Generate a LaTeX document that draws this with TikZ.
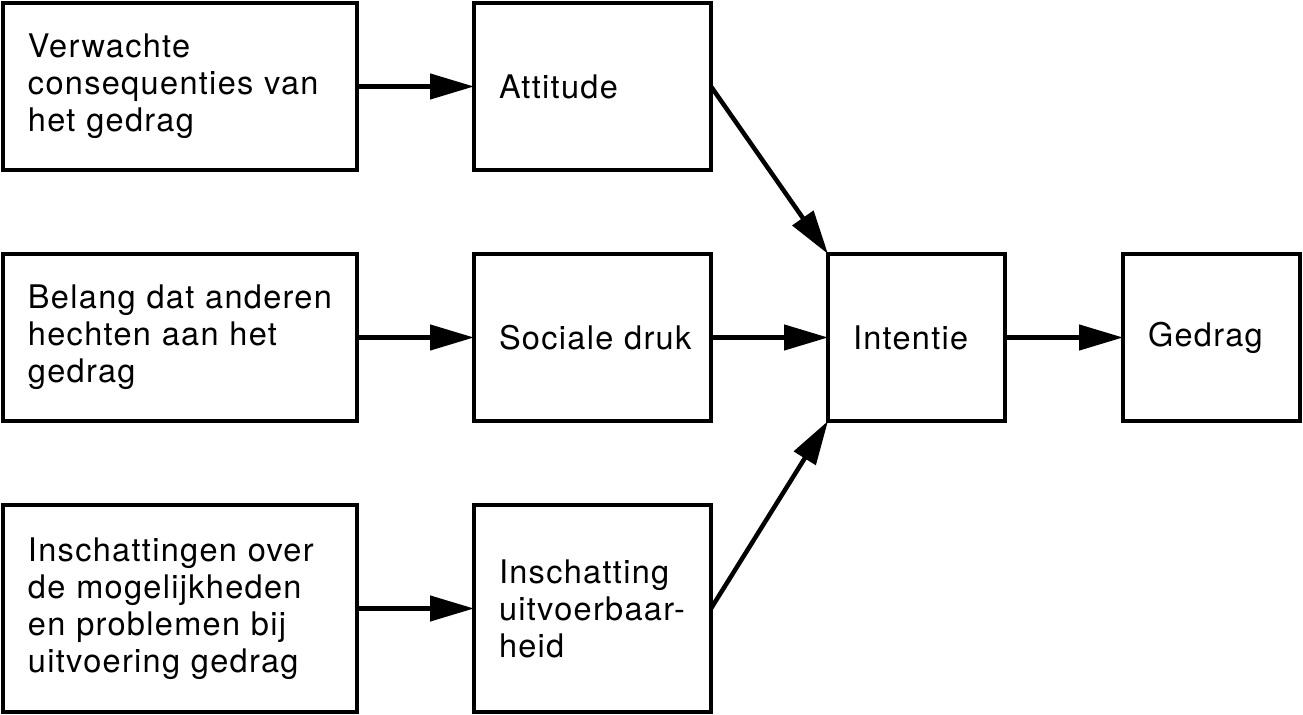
\documentclass[tikz,border=0pt]{standalone}
\usepackage{fontspec}
\setmainfont[LetterSpace=4]{TeX Gyre Heros}
\usepackage{tikz}
\usetikzlibrary{positioning,arrows.meta}

\begin{document}
\begin{tikzpicture}[font=\fontsize{18.5pt}{21pt}\selectfont, node distance=1.68cm and 2.34cm,
  line width=0.09cm, outer sep=0pt,
  box/.style={draw, align=left, inner sep=0.5cm, minimum height=3.34cm},
  wide/.style={box, text width=6.08cm, minimum width=7.08cm},
  mid/.style={box, text width=3.74cm, minimum width=4.74cm},
  small/.style={box, text width=2.54cm, minimum width=3.54cm},
  pijl/.style={-{Triangle[length=0.88cm,width=0.5cm]}}]
\useasboundingbox (0,0) rectangle (26.06,-14.3);
\node[wide] (gevolg) at (3.6,-1.73) {Verwachte\\consequenties van\\het gedrag};
\node[wide, below=of gevolg] (belang) {Belang dat anderen\\hechten aan het\\gedrag};
\node[wide, below=of belang, minimum height=4.14cm] (kans) {Inschattingen over\\de mogelijkheden\\en problemen bij\\uitvoering gedrag};
\node[mid, right=of gevolg] (att) {Attitude};
\node[mid, right=of belang] (druk) {Sociale~druk};
\node[mid, right=of kans, minimum height=4.14cm] (uitv) {Inschatting\\uitvoerbaar-\\heid};
\node[small, right=of druk] (int) {Intentie};
\node[small, right=2.36cm of int] (ged) {Gedrag};
\foreach \a/\b in {gevolg/att,belang/druk,kans/uitv,druk/int,int/ged} \draw[pijl] (\a) -- (\b);
\draw[pijl] (att.east) -- (int.north west);
\draw[pijl] (uitv.east) -- (int.south west);
\end{tikzpicture}
\end{document}
